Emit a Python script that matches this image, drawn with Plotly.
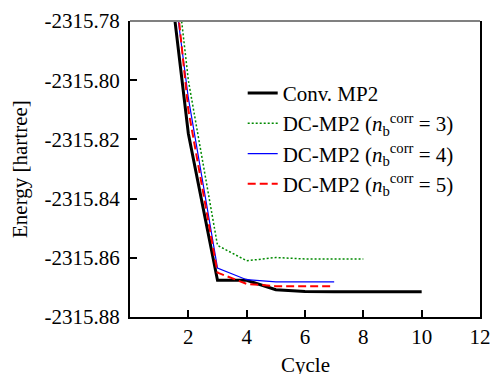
import plotly.graph_objects as go

cycle_conv = [1, 2, 3, 4, 5, 6, 7, 8, 9, 10]
energy_conv = [-2315.735, -2315.818, -2315.8676, -2315.8676, -2315.8708,
               -2315.8714, -2315.8715, -2315.8715, -2315.8715, -2315.8715]

cycle_n3 = [1, 2, 3, 4, 5, 6, 7, 8]
energy_n3 = [-2315.713, -2315.800, -2315.8558, -2315.861, -2315.8599,
             -2315.8604, -2315.8604, -2315.8604]

cycle_n4 = [1, 2, 3, 4, 5, 6, 7]
energy_n4 = [-2315.730, -2315.806, -2315.8635, -2315.8674, -2315.8681,
             -2315.8681, -2315.8681]

cycle_n5 = [1, 2, 3, 4, 5, 6, 7]
energy_n5 = [-2315.716, -2315.810, -2315.865, -2315.8688, -2315.8696,
             -2315.8696, -2315.8696]

names = ["Conv. MP2",
         "DC-MP2 (<i>n</i><sub>b</sub><sup>corr</sup> = 3)",
         "DC-MP2 (<i>n</i><sub>b</sub><sup>corr</sup> = 4)",
         "DC-MP2 (<i>n</i><sub>b</sub><sup>corr</sup> = 5)"]

x_ticks = [2, 4, 6, 8, 10, 12]
y_ticks = [-2315.88, -2315.86, -2315.84, -2315.82, -2315.80, -2315.78]

x_title = "Cycle"
y_title = "Energy [hartree]"

FONT = "Liberation Serif, Times New Roman, serif"
TICKFONT = dict(family=FONT, size=21, color="black")

fig = go.Figure()
fig.add_trace(go.Scatter(x=cycle_conv, y=energy_conv, mode="lines", name=names[0],
                         line=dict(color="black", width=3)))
fig.add_trace(go.Scatter(x=cycle_n3, y=energy_n3, mode="lines", name=names[1],
                         line=dict(color="#008a00", width=1.5, dash="2px,2px")))
fig.add_trace(go.Scatter(x=cycle_n4, y=energy_n4, mode="lines", name=names[2],
                         line=dict(color="#0000ff", width=1.2)))
fig.add_trace(go.Scatter(x=cycle_n5, y=energy_n5, mode="lines", name=names[3],
                         line=dict(color="#ff0000", width=2, dash="8px,4px")))

fig.update_layout(
    width=491, height=374,
    margin=dict(l=130, r=11, t=21, b=57),
    paper_bgcolor="white", plot_bgcolor="white",
    font=dict(family=FONT, size=21, color="black"),
    showlegend=True,
    legend=dict(x=0.322, y=0.825, xanchor="left", yanchor="top",
                bgcolor="rgba(0,0,0,0)", font=dict(family=FONT, size=21),
                tracegroupgap=0, itemwidth=30),
    xaxis=dict(range=[0, 12], tickvals=x_ticks, ticktext=[str(v) for v in x_ticks],
               tickfont=TICKFONT,
               ticks="inside", ticklen=7, tickwidth=1.5, tickcolor="black",
               showline=True, linecolor="black", linewidth=2, mirror=False,
               showgrid=False, zeroline=False, automargin=False),
    yaxis=dict(range=[-2315.88, -2315.78], tickvals=y_ticks,
               ticktext=["%.2f" % v for v in y_ticks],
               tickfont=TICKFONT,
               ticks="inside", ticklen=7, tickwidth=1.5, tickcolor="black",
               ticklabelstandoff=4,
               showline=True, linecolor="black", linewidth=2, mirror=True,
               showgrid=False, zeroline=False, automargin=False),
)
fig.add_annotation(text=y_title, xref="paper", yref="paper", x=0, y=0.5,
                   xanchor="center", yanchor="middle", xshift=-110, textangle=-90,
                   showarrow=False, font=dict(family=FONT, size=21))
fig.add_annotation(text=x_title, xref="paper", yref="paper", x=0.5, y=0,
                   xanchor="center", yanchor="middle", yshift=-48,
                   showarrow=False, font=dict(family=FONT, size=21))
fig.add_shape(type="line", xref="paper", yref="paper", x0=0, x1=1, y0=1, y1=1,
              line=dict(color="#808080", width=2))
fig.write_html("out.html", config={"displayModeBar": False},
               post_script="document.body.style.margin='0';"
                           "document.body.style.overflow='hidden';")
